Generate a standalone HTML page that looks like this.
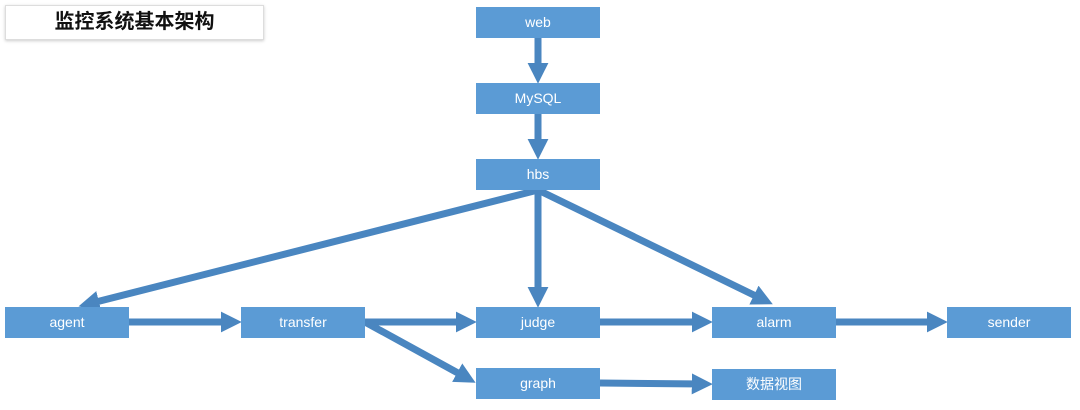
<!DOCTYPE html>
<html><head><meta charset="utf-8"><style>
body{margin:0;width:1080px;height:410px;background:#fff;overflow:hidden;position:relative;font-family:"Liberation Sans","Noto Sans CJK SC",sans-serif}
.b{position:absolute;width:124px;height:31px;background:#5b9bd5;color:#fff;font-size:14px;line-height:31px;text-align:center}
.t{position:absolute;left:5px;top:5px;width:257px;height:33px;border:1px solid #ddd;box-shadow:0 1px 3px #ccc;font-size:20px;font-weight:bold;line-height:33px;text-align:center;color:#111}
svg{position:absolute;left:0;top:0}
</style></head><body>
<div class="t">监控系统基本架构</div>
<svg width="1080" height="410">
<defs><marker id="a" markerWidth="3" markerHeight="3" refX="1.6" refY="1.5" orient="auto" markerUnits="strokeWidth"><path d="M0,0L3,1.5L0,3z" fill="#4a86c0"/></marker></defs>
<g stroke="#4a86c0" stroke-width="7" fill="none" marker-end="url(#a)">
<line x1="538" y1="38" x2="538" y2="74"/>
<line x1="538" y1="114" x2="538" y2="150"/>
<line x1="538" y1="190" x2="538" y2="298"/>
<line x1="538" y1="190" x2="88" y2="304"/>
<line x1="538" y1="190" x2="764" y2="300"/>
<line x1="129" y1="322" x2="232" y2="322"/>
<line x1="365" y1="322" x2="467" y2="322"/>
<line x1="600" y1="322" x2="703" y2="322"/>
<line x1="836" y1="322" x2="938" y2="322"/>
<line x1="365" y1="322" x2="467" y2="378"/>
<line x1="600" y1="383" x2="703" y2="384"/>
</g></svg>
<div class="b" style="left:476px;top:7px">web</div>
<div class="b" style="left:476px;top:83px">MySQL</div>
<div class="b" style="left:476px;top:159px">hbs</div>
<div class="b" style="left:5px;top:307px">agent</div>
<div class="b" style="left:241px;top:307px">transfer</div>
<div class="b" style="left:476px;top:307px">judge</div>
<div class="b" style="left:712px;top:307px">alarm</div>
<div class="b" style="left:947px;top:307px">sender</div>
<div class="b" style="left:476px;top:368px">graph</div>
<div class="b" style="left:712px;top:369px">数据视图</div>
</body></html>
